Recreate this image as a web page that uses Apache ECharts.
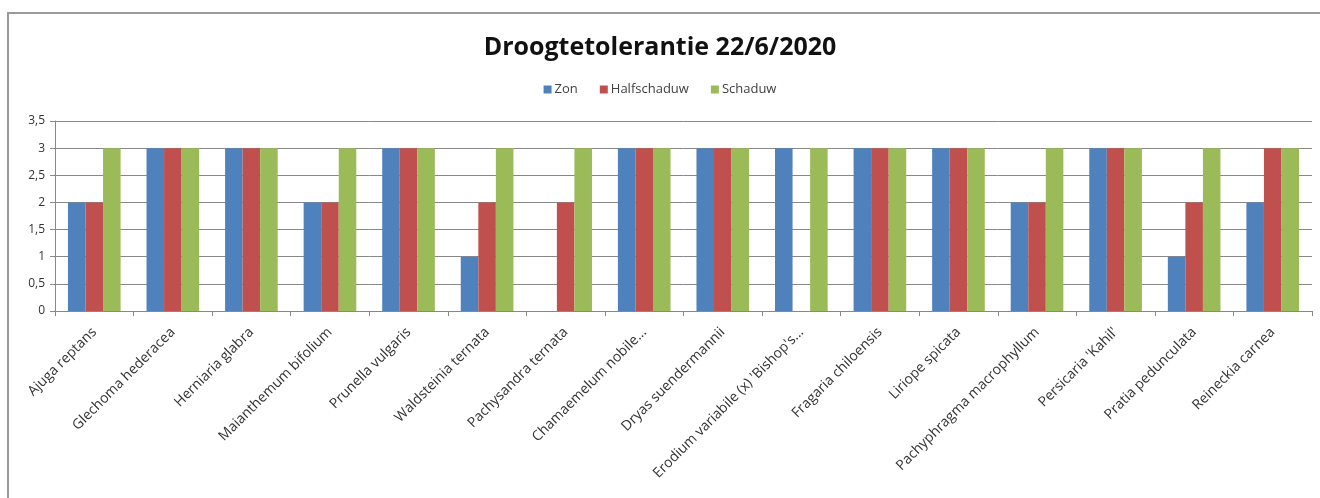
<!DOCTYPE html>
<html><head><meta charset="utf-8">
<script src="https://cdn.jsdelivr.net/npm/echarts@6/dist/echarts.min.js"></script>
<style>html,body{margin:0;padding:0;background:#fff}#c{width:1320px;height:498px}</style>
</head><body><div id="c"></div>
<script>
const categories = ["Ajuga reptans","Glechoma hederacea","Herniaria glabra","Maianthemum bifolium","Prunella vulgaris","Waldsteinia ternata","Pachysandra ternata","Chamaemelum nobile...","Dryas suendermannii","Erodium variabile (x) 'Bishop's...","Fragaria chiloensis","Liriope spicata","Pachyphragma macrophyllum","Persicaria 'Kahil'","Pratia pedunculata","Reineckia carnea"];
const zon = [2,3,3,2,3,1,0,3,3,3,3,3,2,3,1,2];
const halfschaduw = [2,3,3,2,3,2,2,3,3,0,3,3,2,3,2,3];
const schaduw = [3,3,3,3,3,3,3,3,3,3,3,3,3,3,3,3];
const seriesNames = ["Zon","Halfschaduw","Schaduw"];
const colors = ["#4F81BD","#C0504D","#9BBB59"];
const font = "'Open Sans', 'Liberation Sans', sans-serif";
const chart = echarts.init(document.getElementById('c'));
chart.setOption({
  animation:false,
  color: colors,
  title:{text:"Droogtetolerantie 22/6/2020", left:'center', top:30,
    textStyle:{fontFamily:font, fontSize:25, fontWeight:'bold', color:'#111'}},
  legend:{data:seriesNames, top:78, left:'center', itemWidth:8, itemHeight:8, itemGap:22,
    icon:'rect', textStyle:{fontFamily:font, fontSize:13, color:'#404040', padding:[0,0,0,-2]}},
  graphic:[{type:'rect', shape:{x:8, y:13, width:1330, height:500}, style:{fill:'none', stroke:'#9a9a9a', lineWidth:2}, silent:true}],
  grid:{left:55, right:8, top:121, bottom:187},
  xAxis:{type:'category', data:categories,
    axisLine:{lineStyle:{color:'#888', width:1}},
    axisTick:{show:true, length:5, lineStyle:{color:'#888'}},
    axisLabel:{rotate:45, interval:0, fontFamily:font, fontSize:14, color:'#333', margin:19}},
  yAxis:{type:'value', min:0, max:3.5, interval:0.5,
    axisLine:{show:true, lineStyle:{color:'#888'}},
    axisTick:{show:true, length:5, lineStyle:{color:'#888'}},
    splitLine:{lineStyle:{color:'#888', width:1}},
    axisLabel:{fontFamily:font, fontSize:12, color:'#333', margin:10,
      formatter:v=>String(v).replace('.',',')}},
  series:[
    {name:seriesNames[0], type:'bar', data:zon, barGap:'0%', barCategoryGap:'33%'},
    {name:seriesNames[1], type:'bar', data:halfschaduw, barGap:'0%', barCategoryGap:'33%'},
    {name:seriesNames[2], type:'bar', data:schaduw, barGap:'0%', barCategoryGap:'33%'}
  ]
});
</script></body></html>
